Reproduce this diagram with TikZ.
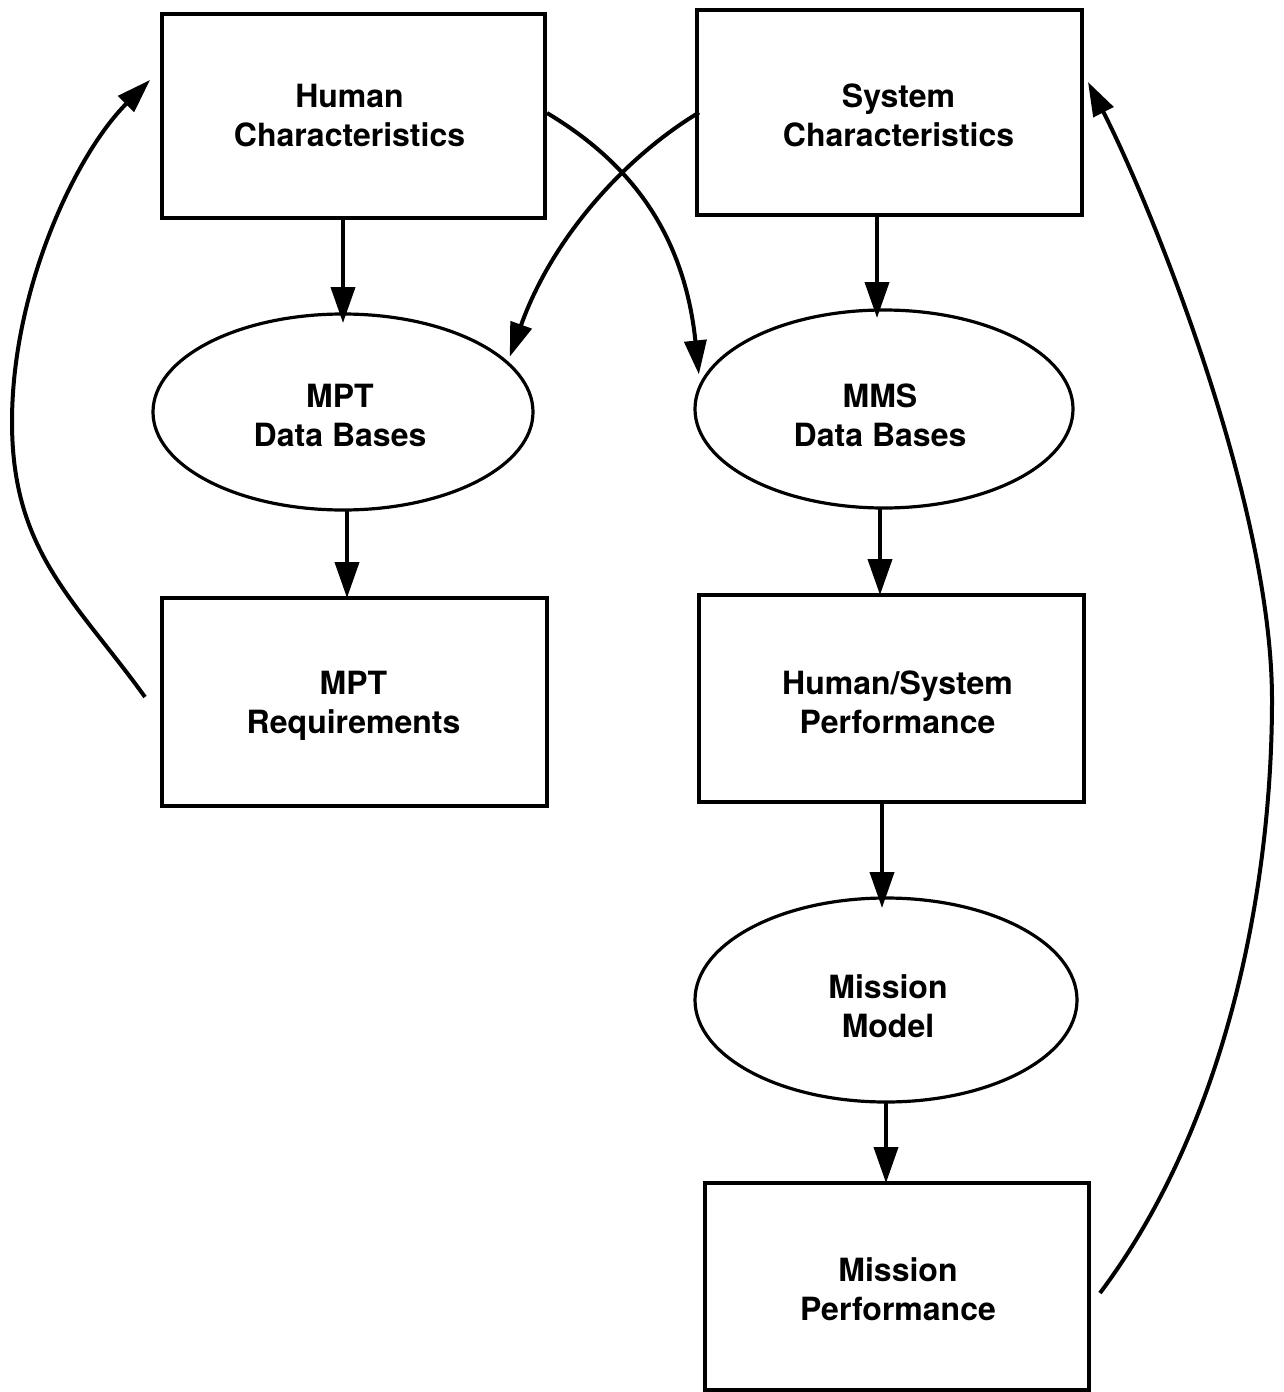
\documentclass[tikz,border=0pt]{standalone}
\usepackage{fontspec}
\setmainfont{TeX Gyre Heros}
\usetikzlibrary{shapes.geometric,arrows.meta,calc}
\begin{document}
\begin{tikzpicture}[x=0.5pt,y=-0.5pt,
  every node/.style={inner sep=0pt, outer sep=0pt},
  boxnode/.style={draw, line width=2pt, rectangle},
  ovalnode/.style={draw, line width=1.6pt, ellipse},
  caption/.style={font=\bfseries\fontsize{16pt}{19.5pt}\selectfont, align=center},
  arr/.style={line width=2pt, -{Triangle[length=18pt,width=12pt]}},
  curvearr/.style={line width=2pt, -{Triangle[length=17pt,width=11pt]}}]
  \useasboundingbox (0,0) rectangle (1284,1392);

  % left column
  \node[boxnode, minimum width=191.5pt, minimum height=102pt] (hum) at (353.5,116) {};
  \node[ovalnode, minimum width=190pt, minimum height=98pt] (mptdb) at (343,412) {};
  \node[boxnode, minimum width=192.5pt, minimum height=104pt] (mptreq) at (354.5,702) {};

  % right column
  \node[boxnode, minimum width=192.5pt, minimum height=102.5pt] (sys) at (889.5,112.5) {};
  \node[ovalnode, minimum width=189pt, minimum height=99pt] (mmsdb) at (884,409) {};
  \node[boxnode, minimum width=192.5pt, minimum height=103.5pt] (hsp) at (891.5,698.5) {};
  \node[ovalnode, minimum width=191pt, minimum height=102pt] (mm) at (886,1000) {};
  \node[boxnode, minimum width=192pt, minimum height=103.5pt] (mperf) at (897,1286.5) {};

  % captions
  \node[caption] (hum-t) at ($(hum.center)+(-4,0)$) {Human\\Characteristics};
  \node[caption] (mptdb-t) at ($(mptdb.center)+(-3,3)$) {MPT\\Data Bases};
  \node[caption] (mptreq-t) at ($(mptreq.center)+(-1,4)$) {MPT\\Requirements};
  \node[caption] (sys-t) at ($(sys.center)+(9,3)$) {System\\Characteristics};
  \node[caption] (mmsdb-t) at ($(mmsdb.center)+(-4,6)$) {MMS\\Data Bases};
  \node[caption] (hsp-t) at ($(hsp.center)+(6,4)$) {Human/System\\Performance};
  \node[caption] (mm-t) at ($(mm.center)+(2,6)$) {Mission\\Model};
  \node[caption] (mperf-t) at ($(mperf.center)+(1,3)$) {Mission\\Performance};

  % bend points of the two long feedback loops
  \coordinate (lbend) at (12,422);
  \coordinate (rbend) at (1272,700);

  % straight flow arrows
  \draw[arr] (mptdb.north |- hum.south) -- ([yshift=-4.5pt]mptdb.north);
  \draw[arr] ([xshift=-3.5pt]mmsdb.north |- sys.south) -- ([xshift=-3.5pt,yshift=-4pt]mmsdb.north);
  \draw[arr] ([xshift=2pt]mptdb.south) -- ([xshift=2pt]mptdb.south |- mptreq.north);
  \draw[arr] ([xshift=-2pt]mmsdb.south) -- ([xshift=-2pt]mmsdb.south |- hsp.north);
  \draw[arr] ([xshift=-4.75pt]hsp.south) -- ([xshift=-4.75pt,yshift=-5pt]hsp.south |- mm.north);
  \draw[arr] (mm.south) -- (mm.south |- mperf.north);

  % crossing arrows
  \draw[curvearr] ($(hum.east)+(2,-3)$) .. controls +(70,42) and +(-16,-154) .. ($(mmsdb.170)+(-6,-3)$);
  \draw[curvearr] ($(sys.west)+(2,0)$) .. controls +(-70,42) and +(44,-123) .. ($(mptdb.18)+(6,-3)$);

  % feedback loops
  \draw[curvearr] ($(mptreq.west)+(-17,-5)$) .. controls +(-70,-97) and +(0,130) .. (lbend)
                  .. controls +(0,-132) and +(-75,75) .. ($(hum.west)+(-12,-36)$);
  \draw[curvearr] ($(mperf.east)+(11,6.5)$) .. controls +(130,-173) and +(0,180) .. (rbend)
                  .. controls +(0,-200) and +(60,117) .. ($(sys.east)+(6,-30.5)$);
\end{tikzpicture}
\end{document}
